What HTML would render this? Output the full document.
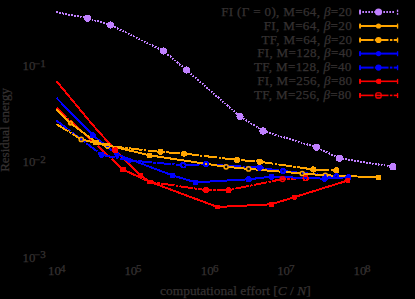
<!DOCTYPE html><html><head><meta charset="utf-8"><style>
html,body{margin:0;padding:0;background:#000;}
#c{position:relative;width:415px;height:299px;background:#000;overflow:hidden;font-family:"Liberation Serif",serif;color:#353131;font-size:12px;-webkit-text-stroke:0.25px #353131;}
.t{position:absolute;white-space:nowrap;line-height:1;}
.t sup{font-size:8px;position:relative;top:-1px;vertical-align:3.5px;line-height:0;}
</style></head><body><div id="c">
<svg width="415" height="299" viewBox="0 0 415 299" style="position:absolute;left:0;top:0" shape-rendering="crispEdges">
<path d="M56.40 107.70 L123.00 169.60 L149.90 181.90 L205.90 190.10 L228.60 190.10 L282.50 179.10 L302.80 178.22" fill="none" stroke="#ff0000" stroke-width="2" stroke-dasharray="13.7 1.3 2.5 1.3"/>
<path d="M56.40 81.00 L91.90 124.00 L115.30 150.20 L140.10 175.30 L150.00 181.80 L217.40 207.00 L271.20 204.30 L294.50 197.10 L347.80 180.50" fill="none" stroke="#ff0000" stroke-width="2"/>
<path d="M56.40 120.60 L101.50 154.70 L129.30 160.40 L180.41 164.95 M186.00 165.08 L203.20 164.32 M208.79 164.38 L259.60 167.70 L282.80 171.00 L336.20 176.40" fill="none" stroke="#0000ff" stroke-width="2" stroke-dasharray="13.7 1.3 2.5 1.3"/>
<path d="M56.40 97.80 L92.80 135.30 L117.00 154.40 L172.70 175.50 L195.60 182.30 L248.60 179.30 L271.50 176.70 L324.80 178.70 L348.30 177.20" fill="none" stroke="#0000ff" stroke-width="2"/>
<path d="M56.40 124.10 L79.26 138.14 M83.63 139.98 L104.78 145.23 M110.28 146.21 L160.60 151.90 L184.00 153.60 L237.10 159.90 L259.90 161.70 L313.30 169.50 L336.20 170.40" fill="none" stroke="#ffa500" stroke-width="2" stroke-dasharray="13.7 1.3 2.5 1.3"/>
<path d="M56.40 109.60 L70.50 123.10 L96.00 142.40 L149.50 155.30 L172.50 158.80 L223.73 166.45 M228.49 167.02 L246.21 168.68 M250.99 169.11 L299.81 173.29 M304.59 173.69 L322.91 175.11 M327.70 175.39 L378.80 177.30" fill="none" stroke="#ffa500" stroke-width="2"/>
<path d="M56.30 12.20 L87.50 18.20 L110.50 25.00 L163.50 51.00 L186.50 70.00 L240.00 116.50 L263.00 131.00 L316.50 147.20 L339.40 158.30 L392.90 166.80" fill="none" stroke="#c080ff" stroke-width="2" stroke-dasharray="1.7 1.3"/>

<circle cx="87.5" cy="18.2" r="3.6" fill="#c080ff"/>
<circle cx="110.5" cy="25" r="3.6" fill="#c080ff"/>
<circle cx="163.5" cy="51" r="3.6" fill="#c080ff"/>
<circle cx="186.5" cy="70" r="3.6" fill="#c080ff"/>
<circle cx="240" cy="116.5" r="3.6" fill="#c080ff"/>
<circle cx="263" cy="131" r="3.6" fill="#c080ff"/>
<circle cx="316.5" cy="147.2" r="3.6" fill="#c080ff"/>
<circle cx="339.4" cy="158.3" r="3.6" fill="#c080ff"/>
<circle cx="392.9" cy="166.8" r="3.6" fill="#c080ff"/>

<circle cx="70.5" cy="123.1" r="2.6" fill="#ffa500" shape-rendering="auto"/><circle cx="70.5" cy="123.1" r="0.9" fill="#e04000" shape-rendering="auto"/>
<rect x="93.0" y="140.3" width="6" height="4.2" fill="#ffa500"/>
<rect x="146.9" y="152.9" width="5.2" height="4.8" fill="#ffa500"/>

<circle cx="226.1" cy="166.8" r="2.1" fill="none" stroke="#ffa500" stroke-width="1.5" shape-rendering="auto"/>
<circle cx="248.6" cy="168.9" r="2.1" fill="none" stroke="#ffa500" stroke-width="1.5" shape-rendering="auto"/>
<circle cx="302.2" cy="173.5" r="2.1" fill="none" stroke="#ffa500" stroke-width="1.5" shape-rendering="auto"/>
<circle cx="325.3" cy="175.3" r="2.1" fill="none" stroke="#ffa500" stroke-width="1.5" shape-rendering="auto"/>
<rect x="376.2" y="174.9" width="5.2" height="4.8" fill="#ffa500"/>

<circle cx="81.3" cy="139.4" r="2.1" fill="none" stroke="#ffa500" stroke-width="1.5" shape-rendering="auto"/>
<circle cx="107.5" cy="145.9" r="2.3" fill="none" stroke="#ffa500" stroke-width="1.7"/>
<circle cx="160.6" cy="151.9" r="3.1" fill="#ffa500"/>
<circle cx="184" cy="153.6" r="3.1" fill="#ffa500"/>
<circle cx="237.1" cy="159.9" r="3.1" fill="#ffa500"/>
<circle cx="259.9" cy="161.7" r="3.1" fill="#ffa500"/>
<circle cx="313.3" cy="169.5" r="3.1" fill="#ffa500"/>
<circle cx="336.2" cy="170.4" r="3.1" fill="#ffa500"/>

<circle cx="92.8" cy="135.3" r="3.1" fill="#0000ff"/>
<circle cx="117" cy="154.4" r="2.6" fill="#0000ff"/>
<rect x="170.1" y="173.1" width="5.2" height="4.8" fill="#0000ff"/>
<rect x="193.0" y="179.9" width="5.2" height="4.8" fill="#0000ff"/>
<circle cx="248.6" cy="179.3" r="3.1" fill="#0000ff"/>
<circle cx="271.5" cy="176.7" r="3.1" fill="#0000ff"/>
<circle cx="324.8" cy="178.7" r="3.1" fill="#0000ff"/>
<circle cx="348.3" cy="177.2" r="3.1" fill="#0000ff"/>

<circle cx="101.5" cy="154.7" r="3.1" fill="#0000ff"/>
<circle cx="129.3" cy="160.4" r="2.6" fill="#0000ff"/>
<circle cx="183.2" cy="165.2" r="2.3" fill="none" stroke="#0000ff" stroke-width="1.7"/>
<circle cx="206" cy="164.2" r="2.3" fill="none" stroke="#0000ff" stroke-width="1.7"/>
<circle cx="259.6" cy="167.7" r="3.1" fill="#0000ff"/>
<circle cx="282.8" cy="171" r="3.1" fill="#0000ff"/><circle cx="282.8" cy="171" r="1.1" fill="#000090"/>
<circle cx="336.2" cy="176.4" r="3.1" fill="#0000ff"/><circle cx="336.2" cy="176.4" r="1.1" fill="#000090"/>


<circle cx="115.3" cy="150.2" r="3.1" fill="#ff0000"/>
<rect x="137.5" y="172.9" width="5.2" height="4.8" fill="#ff0000"/>

<rect x="214.8" y="204.6" width="5.2" height="4.8" fill="#ff0000"/>
<rect x="268.59999999999997" y="201.9" width="5.2" height="4.8" fill="#ff0000"/>
<circle cx="294.5" cy="197.1" r="2.6" fill="#ff0000"/>
<circle cx="347.8" cy="180.5" r="2.6" fill="#ff0000"/>

<rect x="120.4" y="167.2" width="5.2" height="4.8" fill="#ff0000"/>
<rect x="146.9" y="179.8" width="6" height="4.2" fill="#ff0000"/>
<circle cx="205.9" cy="190.1" r="3.1" fill="#ff0000"/>
<circle cx="228.6" cy="190.1" r="3.1" fill="#ff0000"/>
<circle cx="282.5" cy="179.1" r="2.4" fill="none" stroke="#ff0000" stroke-width="1.4" shape-rendering="auto"/>
<circle cx="305.6" cy="178.1" r="2.3" fill="none" stroke="#ff0000" stroke-width="1.7"/>
<g shape-rendering="auto">
<rect x="359.1" y="11.00" width="1.90" height="2.0" fill="#c080ff"/>
<rect x="362.3" y="11.00" width="1.70" height="2.0" fill="#c080ff"/>
<rect x="365.3" y="11.00" width="1.70" height="2.0" fill="#c080ff"/>
<rect x="368.3" y="11.00" width="1.70" height="2.0" fill="#c080ff"/>
<rect x="371.3" y="11.00" width="1.70" height="2.0" fill="#c080ff"/>
<rect x="374.3" y="11.00" width="1.70" height="2.0" fill="#c080ff"/>
<rect x="377.3" y="11.00" width="1.70" height="2.0" fill="#c080ff"/>
<rect x="380.3" y="11.00" width="1.70" height="2.0" fill="#c080ff"/>
<rect x="383.3" y="11.00" width="1.70" height="2.0" fill="#c080ff"/>
<rect x="386.3" y="11.00" width="1.70" height="2.0" fill="#c080ff"/>
<rect x="389.3" y="11.00" width="1.70" height="2.0" fill="#c080ff"/>
<rect x="392.3" y="11.00" width="1.70" height="2.0" fill="#c080ff"/>
<rect x="359.1" y="9.60" width="1.9" height="4.9" fill="#c080ff"/>
<rect x="396.9" y="9.70" width="1.3" height="2.2" fill="#c080ff"/><rect x="396.9" y="12.90" width="1.3" height="1.9" fill="#c080ff"/>
<circle cx="378.5" cy="12.0" r="3.6" fill="#c080ff"/>
<rect x="359.1" y="25.00" width="39.00" height="2.0" fill="#ffa500"/>
<rect x="359.1" y="23.60" width="1.9" height="4.9" fill="#ffa500"/>
<rect x="396.9" y="23.60" width="1.3" height="5.0" fill="#ffa500"/>
<circle cx="378.5" cy="26.0" r="2.6" fill="#ffa500"/>
<rect x="359.1" y="39.00" width="14.50" height="2.0" fill="#ffa500"/>
<rect x="374.8" y="39.00" width="13.70" height="2.0" fill="#ffa500"/>
<rect x="389.9" y="39.00" width="2.50" height="2.0" fill="#ffa500"/>
<rect x="393.7" y="39.00" width="4.40" height="2.0" fill="#ffa500"/>
<rect x="359.1" y="37.60" width="1.9" height="4.9" fill="#ffa500"/>
<rect x="396.9" y="37.60" width="1.3" height="5.0" fill="#ffa500"/>
<circle cx="378.5" cy="40.0" r="3.1" fill="#ffa500"/>
<rect x="359.1" y="52.60" width="39.00" height="2.0" fill="#0000ff"/>
<rect x="359.1" y="51.20" width="1.9" height="4.9" fill="#0000ff"/>
<rect x="396.9" y="51.20" width="1.3" height="5.0" fill="#0000ff"/>
<circle cx="378.5" cy="53.6" r="2.6" fill="#0000ff"/>
<rect x="359.1" y="66.60" width="14.50" height="2.0" fill="#0000ff"/>
<rect x="374.8" y="66.60" width="13.70" height="2.0" fill="#0000ff"/>
<rect x="389.9" y="66.60" width="2.50" height="2.0" fill="#0000ff"/>
<rect x="393.7" y="66.60" width="4.40" height="2.0" fill="#0000ff"/>
<rect x="359.1" y="65.20" width="1.9" height="4.9" fill="#0000ff"/>
<rect x="396.9" y="65.20" width="1.3" height="5.0" fill="#0000ff"/>
<circle cx="378.5" cy="67.6" r="3.1" fill="#0000ff"/>
<rect x="359.1" y="80.50" width="39.00" height="1.6" fill="#ff0000"/>
<rect x="359.1" y="78.90" width="1.9" height="4.9" fill="#ff0000"/>
<rect x="396.9" y="78.90" width="1.3" height="5.0" fill="#ff0000"/>
<circle cx="378.5" cy="81.3" r="2.6" fill="#ff0000"/><rect x="378.0" y="78.89999999999999" width="3" height="4.8" fill="#ff0000"/>
<rect x="359.1" y="94.60" width="14.50" height="1.6" fill="#ff0000"/>
<rect x="374.8" y="94.60" width="13.70" height="1.6" fill="#ff0000"/>
<rect x="389.9" y="94.60" width="2.50" height="1.6" fill="#ff0000"/>
<rect x="393.7" y="94.60" width="4.40" height="1.6" fill="#ff0000"/>
<rect x="359.1" y="93.00" width="1.9" height="4.9" fill="#ff0000"/>
<rect x="396.9" y="93.00" width="1.3" height="5.0" fill="#ff0000"/>
<rect x="375.9" y="92.80000000000001" width="5.2" height="5.2" rx="1.2" fill="none" stroke="#ff0000" stroke-width="1.3"/>
</g>
</svg>
<div class="t" style="right:63px;top:5.7px;letter-spacing:0.3px;transform:scaleX(1.09);transform-origin:100% 50%">FI (Γ = 0), M=64, <i>β</i>=20</div>
<div class="t" style="right:63px;top:19.7px;letter-spacing:0.3px;transform:scaleX(1.09);transform-origin:100% 50%">FI, M=64, <i>β</i>=20</div>
<div class="t" style="right:63px;top:33.7px;letter-spacing:0.3px;transform:scaleX(1.09);transform-origin:100% 50%">TF, M=64, <i>β</i>=20</div>
<div class="t" style="right:63px;top:47.300000000000004px;letter-spacing:0.3px;transform:scaleX(1.09);transform-origin:100% 50%">FI, M=128, <i>β</i>=40</div>
<div class="t" style="right:63px;top:61.3px;letter-spacing:0.3px;transform:scaleX(1.09);transform-origin:100% 50%">TF, M=128, <i>β</i>=40</div>
<div class="t" style="right:63px;top:75.0px;letter-spacing:0.3px;transform:scaleX(1.09);transform-origin:100% 50%">FI, M=256, <i>β</i>=80</div>
<div class="t" style="right:63px;top:89.10000000000001px;letter-spacing:0.3px;transform:scaleX(1.09);transform-origin:100% 50%">TF, M=256, <i>β</i>=80</div>
<div class="t" style="font-size:12.8px;left:22.5px;top:60.400000000000006px;">10<span style="display:inline-block;font-size:9.6px;position:relative;top:-3.4px;left:-1.0px;transform:scaleX(1.15);transform-origin:0 50%">−1</span></div>
<div class="t" style="font-size:12.8px;left:22.5px;top:156.0px;">10<span style="display:inline-block;font-size:9.6px;position:relative;top:-3.4px;left:-1.0px;transform:scaleX(1.15);transform-origin:0 50%">−2</span></div>
<div class="t" style="font-size:12.8px;left:22.5px;top:251.5px;">10<span style="display:inline-block;font-size:9.6px;position:relative;top:-3.4px;left:-1.0px;transform:scaleX(1.15);transform-origin:0 50%">−3</span></div>
<div class="t" style="font-size:12.8px;left:48.0px;top:265.2px;">10<span style="display:inline-block;font-size:9.6px;position:relative;top:-3.4px;left:-1.0px;transform:scaleX(1.15);transform-origin:0 50%">4</span></div>
<div class="t" style="font-size:12.8px;left:124.4px;top:265.2px;">10<span style="display:inline-block;font-size:9.6px;position:relative;top:-3.4px;left:-1.0px;transform:scaleX(1.15);transform-origin:0 50%">5</span></div>
<div class="t" style="font-size:12.8px;left:200.79999999999998px;top:265.2px;">10<span style="display:inline-block;font-size:9.6px;position:relative;top:-3.4px;left:-1.0px;transform:scaleX(1.15);transform-origin:0 50%">6</span></div>
<div class="t" style="font-size:12.8px;left:277.20000000000005px;top:265.2px;">10<span style="display:inline-block;font-size:9.6px;position:relative;top:-3.4px;left:-1.0px;transform:scaleX(1.15);transform-origin:0 50%">7</span></div>
<div class="t" style="font-size:12.8px;left:353.6px;top:265.2px;">10<span style="display:inline-block;font-size:9.6px;position:relative;top:-3.4px;left:-1.0px;transform:scaleX(1.15);transform-origin:0 50%">8</span></div>
<div class="t" id="xl" style="font-size:12.6px;left:160.2px;top:284.59999999999997px;transform:scaleX(1.068);transform-origin:0 50%">computational effort [<i>C</i> / <i>N</i>]</div>
<div class="t" id="yl" style="font-size:12.6px;left:0;top:0;transform-origin:0 0;transform:translate(12.0px,171.8px) rotate(-90deg) scaleX(1.03) translate(0,-12.6px)">Residual energy</div>
</div></body></html>
